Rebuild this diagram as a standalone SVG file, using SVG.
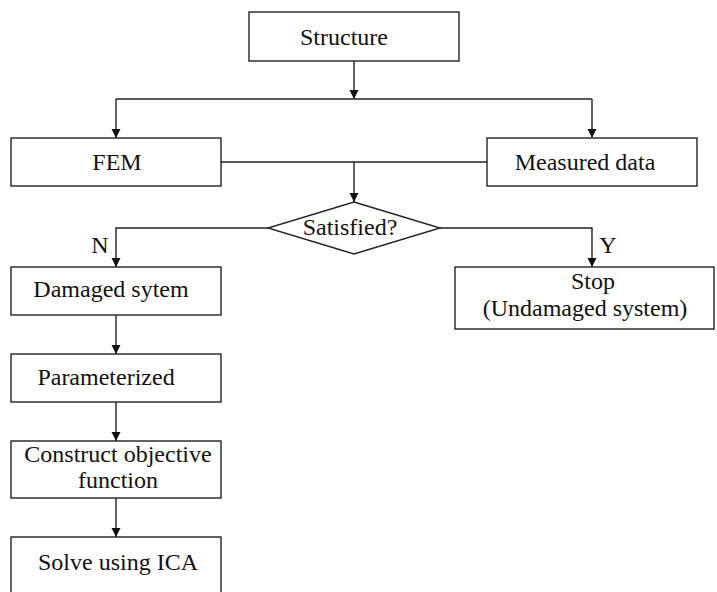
<svg xmlns="http://www.w3.org/2000/svg" width="717" height="592" viewBox="0 0 717 592">
<style>
.box{fill:#fff;stroke:#222;stroke-width:1.4}
.ln{fill:none;stroke:#222;stroke-width:1.4}
text{font-family:"Liberation Serif","Times New Roman",serif;font-size:24px;fill:#111;text-anchor:middle}
</style>
<defs>
<marker id="ah" markerUnits="userSpaceOnUse" markerWidth="10" markerHeight="10" refX="9" refY="4.5" orient="auto">
<path d="M0,0 L9,4.5 L0,9 z" fill="#111"/>
</marker>
</defs>
<rect width="717" height="592" fill="#fff"/>
<g id="connectors">
<path class="ln" d="M354,61 V99" marker-end="url(#ah)"/>
<path class="ln" d="M116,99 H592"/>
<path class="ln" d="M116,99 V138" marker-end="url(#ah)"/>
<path class="ln" d="M592,99 V138" marker-end="url(#ah)"/>
<path class="ln" d="M221,162 H487"/>
<path class="ln" d="M354,162 V202" marker-end="url(#ah)"/>
<path class="ln" d="M268,228 H116 V267" marker-end="url(#ah)"/>
<path class="ln" d="M440,228 H592 V267" marker-end="url(#ah)"/>
<path class="ln" d="M116,315 V354" marker-end="url(#ah)"/>
<path class="ln" d="M116,402 V441" marker-end="url(#ah)"/>
<path class="ln" d="M116,498 V537" marker-end="url(#ah)"/>
<text x="100" y="253">N</text>
<text x="608" y="253">Y</text>
</g>
<g id="structure">
<rect class="box" x="249" y="12" width="210" height="49"/>
<text x="344" y="45">Structure</text>
</g>
<g id="fem">
<rect class="box" x="11" y="138" width="210" height="48"/>
<text x="117" y="170">FEM</text>
</g>
<g id="measured">
<rect class="box" x="487" y="138" width="210" height="48"/>
<text x="585" y="170">Measured data</text>
</g>
<g id="satisfied">
<polygon class="box" points="354,202 440,228 354,254 268,228"/>
<text x="350" y="235">Satisfied?</text>
</g>
<g id="damaged">
<rect class="box" x="11" y="267" width="210" height="48"/>
<text x="111" y="297">Damaged sytem</text>
</g>
<g id="stop">
<rect class="box" x="455" y="267" width="259" height="62"/>
<text x="593" y="289">Stop</text>
<text x="585" y="316">(Undamaged system)</text>
</g>
<g id="param">
<rect class="box" x="11" y="354" width="210" height="48"/>
<text x="106" y="385">Parameterized</text>
</g>
<g id="construct">
<rect class="box" x="11" y="441" width="210" height="57"/>
<text x="118" y="462">Construct objective</text>
<text x="118" y="488">function</text>
</g>
<g id="solve">
<rect class="box" x="11" y="537" width="210" height="70"/>
<text x="118" y="570">Solve using ICA</text>
</g>
</svg>
